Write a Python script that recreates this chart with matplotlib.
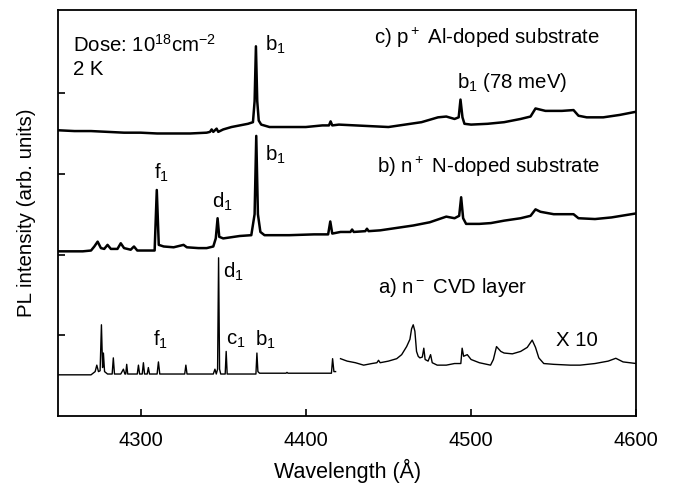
import matplotlib
matplotlib.use("Agg")
import matplotlib.pyplot as plt

plt.rcParams['font.family'] = ['Liberation Sans', 'DejaVu Sans']
plt.rcParams['mathtext.fontset'] = 'custom'
plt.rcParams['mathtext.rm'] = 'Liberation Sans'
plt.rcParams['mathtext.it'] = 'Liberation Sans:italic'
plt.rcParams['mathtext.default'] = 'regular'

# c) p+ Al-doped substrate
wl_c = [4250, 4260, 4270, 4280, 4290, 4300, 4310, 4320, 4330, 4340, 4342, 4343, 4344,
        4346, 4347, 4350, 4355, 4360, 4365, 4368, 4369, 4369.8, 4370.6, 4371.5, 4373,
        4378, 4390, 4400, 4410, 4414, 4415, 4416, 4420, 4430, 4440, 4450, 4460, 4470,
        4480, 4485, 4490, 4492.5, 4493.6, 4494.8, 4496, 4500, 4510, 4520, 4530, 4536,
        4539, 4541, 4545, 4555, 4562, 4565, 4570, 4580, 4590, 4600]
pl_c = [3.54, 3.53, 3.53, 3.52, 3.51, 3.51, 3.50, 3.50, 3.50, 3.51, 3.52, 3.55, 3.52,
        3.56, 3.52, 3.55, 3.58, 3.60, 3.62, 3.64, 3.90, 4.58, 3.90, 3.66, 3.61,
        3.58, 3.58, 3.58, 3.60, 3.60, 3.65, 3.60, 3.61, 3.60, 3.59, 3.58, 3.61, 3.64,
        3.70, 3.71, 3.68, 3.70, 3.92, 3.70, 3.62, 3.61, 3.62, 3.64, 3.68, 3.71,
        3.81, 3.80, 3.78, 3.78, 3.79, 3.72, 3.70, 3.70, 3.73, 3.77]

# b) n+ N-doped substrate
wl_b = [4250, 4265, 4270, 4272, 4274, 4276, 4278, 4280, 4282, 4286, 4288, 4290, 4294,
        4296, 4298, 4308.5, 4309.8, 4311, 4314, 4320, 4326, 4328, 4335, 4340, 4344,
        4345.5, 4346.6, 4347.6, 4350, 4360, 4367, 4369, 4370, 4371, 4372.5, 4375, 4390,
        4405, 4413.5, 4414.8, 4416, 4421, 4427, 4428, 4429, 4436, 4437, 4438, 4445,
        4455, 4465, 4475, 4485, 4490, 4492.8, 4494, 4495.2, 4497, 4505, 4512, 4520,
        4530, 4536, 4539, 4542, 4550, 4562, 4565, 4575, 4585, 4600]
pl_b = [2.04, 2.04, 2.05, 2.10, 2.16, 2.08, 2.07, 2.12, 2.07, 2.07, 2.14, 2.08, 2.06,
        2.10, 2.05, 2.05, 2.80, 2.12, 2.10, 2.09, 2.12, 2.09, 2.08, 2.08, 2.10,
        2.20, 2.45, 2.22, 2.20, 2.23, 2.24, 2.50, 3.47, 2.50, 2.28, 2.24, 2.24,
        2.25, 2.25, 2.41, 2.26, 2.28, 2.28, 2.31, 2.28, 2.29, 2.32, 2.29, 2.30,
        2.33, 2.36, 2.40, 2.47, 2.45, 2.48, 2.71, 2.45, 2.38, 2.38, 2.39, 2.42,
        2.45, 2.48, 2.56, 2.53, 2.50, 2.50, 2.45, 2.44, 2.46, 2.51]

# a) n- CVD layer
wl_a = [4250, 4270, 4272.5, 4273.5, 4274.5, 4275.5, 4276.3, 4277, 4277.5, 4278.2, 4280,
        4282.8, 4283.5, 4284.2, 4288, 4289.6, 4290.5, 4291, 4291.6, 4292.2, 4298,
        4298.7, 4299.4, 4301, 4301.7, 4302.4, 4304, 4304.7, 4305.4, 4310, 4310.8,
        4311.6, 4326.7, 4327.4, 4328.1, 4344, 4345, 4345.8, 4346.6, 4347.2, 4347.8,
        4348.5, 4351.2, 4351.8, 4352.4, 4369.8, 4370.4, 4371, 4372, 4388, 4388.6,
        4389.2, 4415.5, 4416.2, 4417, 4418]
pl_a = [0.51, 0.51, 0.55, 0.63, 0.55, 0.56, 1.13, 0.60, 0.78, 0.55, 0.52,
        0.52, 0.72, 0.52, 0.52, 0.58, 0.52, 0.52, 0.64, 0.52, 0.52,
        0.63, 0.52, 0.52, 0.66, 0.52, 0.52, 0.60, 0.52, 0.52, 0.67,
        0.52, 0.52, 0.63, 0.52, 0.52, 0.58, 0.52, 0.58, 1.96, 0.58,
        0.52, 0.52, 0.80, 0.52, 0.52, 0.78, 0.55, 0.53, 0.53, 0.54,
        0.53, 0.53, 0.71, 0.55, 0.55]

# a) x10 part
wl_a10 = [4421, 4425, 4430, 4435, 4440, 4443, 4444, 4445, 4450, 4455, 4458, 4461, 4463,
          4464, 4465, 4466, 4467, 4468, 4469, 4470.5, 4471.4, 4472.2, 4474, 4475.5,
          4476.5, 4479.5, 4485, 4490, 4493.8, 4494.6, 4495.5, 4497.7, 4500, 4505,
          4511.8, 4513.5, 4515.4, 4518, 4520, 4525, 4530, 4534, 4537, 4539, 4541,
          4544, 4550, 4560, 4566, 4575, 4583, 4587.6, 4592, 4600]
pl_a10 = [0.71, 0.68, 0.66, 0.63, 0.65, 0.66, 0.69, 0.66, 0.68, 0.71, 0.76, 0.86, 0.95,
          1.08, 1.13, 1.05, 0.80, 0.74, 0.72, 0.73, 0.84, 0.70, 0.68, 0.76,
          0.66, 0.63, 0.63, 0.65, 0.65, 0.84, 0.74, 0.76, 0.70, 0.66,
          0.63, 0.70, 0.86, 0.80, 0.78, 0.77, 0.80, 0.85, 0.94, 0.85, 0.72,
          0.65, 0.64, 0.63, 0.63, 0.65, 0.68, 0.715, 0.67, 0.65]

fig = plt.figure(figsize=(6.78, 4.87), dpi=100)
ax = fig.add_axes([0.0855, 0.1458, 0.853, 0.8337])

ax.plot(wl_c, pl_c, color='black', lw=1.8)
ax.plot(wl_b, pl_b, color='black', lw=1.8)
ax.plot(wl_a, pl_a, color='black', lw=1.0)
ax.plot(wl_a10, pl_a10, color='black', lw=1.0)

ax.set_xlim(4250, 4600)
ax.set_ylim(0, 5.03)
ax.set_xticks([4300, 4400, 4500, 4600])
ax.set_yticks([1, 2, 3, 4])
ax.set_yticklabels([])
ax.tick_params(direction='in', length=5, width=1.2, labelsize=14.5)
ax.tick_params(axis='x', pad=11)
for s in ax.spines.values():
    s.set_linewidth(1.3)

ax.set_xlabel('Wavelength (Å)', fontsize=15.5, labelpad=6)
ax.set_ylabel('PL intensity (arb. units)', fontsize=14.8, labelpad=12)

fs = 14.7
ax.text(4259, 4.60, 'Dose: 10$^{18}$cm$^{-2}$', fontsize=fs, va='center')
ax.text(4259, 4.29, '2 K', fontsize=fs, va='center')
ax.text(4375.5, 4.60, 'b$_1$', fontsize=fs, va='center')
ax.text(4509.7, 4.68, 'c) p$^+$ Al-doped substrate', fontsize=fs, ha='center', va='center')
ax.text(4525, 4.13, 'b$_1$ (78 meV)', fontsize=fs, ha='center', va='center')

ax.text(4510.6, 3.09, 'b) n$^+$ N-doped substrate', fontsize=fs, ha='center', va='center')
ax.text(4375.5, 3.23, 'b$_1$', fontsize=fs, va='center')
ax.text(4312.7, 3.01, 'f$_1$', fontsize=fs, ha='center', va='center')
ax.text(4349.7, 2.65, 'd$_1$', fontsize=fs, ha='center', va='center')

ax.text(4488.5, 1.59, 'a) n$^-$ CVD layer', fontsize=fs, ha='center', va='center')
ax.text(4350, 1.78, 'd$_1$', fontsize=fs, va='center')
ax.text(4311.8, 0.94, 'f$_1$', fontsize=fs, ha='center', va='center')
ax.text(4357.9, 0.94, 'c$_1$', fontsize=fs, ha='center', va='center')
ax.text(4375.5, 0.94, 'b$_1$', fontsize=fs, ha='center', va='center')
ax.text(4564, 0.94, 'X 10', fontsize=fs, ha='center', va='center')

fig.savefig('out.png', dpi=100)
